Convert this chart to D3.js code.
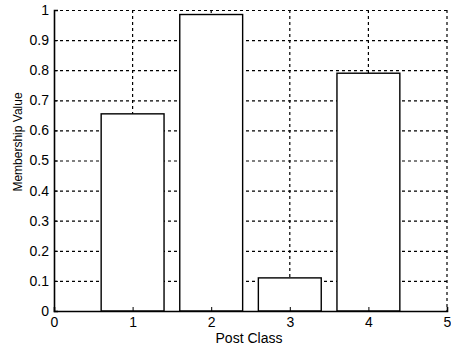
<!DOCTYPE html>
<html>
<head>
<meta charset="utf-8">
<script src="https://cdn.jsdelivr.net/npm/d3@7"></script>
<style>
  body { margin: 0; background: #fff; }
  svg text { font-family: "Liberation Sans", Arial, sans-serif; fill: #000; }
</style>
</head>
<body>
<div id="chart"></div>
<script>
var classes = [1, 2, 3, 4, 5];
var membership = [0.655, 0.985, 0.11, 0.79, 0];
var xTicks = [0, 1, 2, 3, 4, 5];
var yTicks = [0, 0.1, 0.2, 0.3, 0.4, 0.5, 0.6, 0.7, 0.8, 0.9, 1];

var w = 451;
var h = 349;
// plot box edges (not "top": that name is taken by window.top)
var pLeft = 54, pRight = 447, pTop = 10, pBottom = 311;

var svg = d3.select("#chart").append("svg").attr("width", w).attr("height", h);

var xScale = d3.scaleLinear().domain([0, 5]).range([pLeft, pRight]);
var yScale = d3.scaleLinear().domain([0, 1]).range([pBottom, pTop]);

// dotted grid
svg.append("g").selectAll("line").data(xTicks.slice(1)).enter().append("line")
    .attr("x1", function (d) { return xScale(d); })
    .attr("x2", function (d) { return xScale(d); })
    .attr("y1", pTop).attr("y2", pBottom)
    .attr("stroke", "#000").attr("stroke-width", 1.2)
    .attr("stroke-dasharray", "3,3");

svg.append("g").selectAll("line").data(yTicks.slice(1)).enter().append("line")
    .attr("y1", function (d) { return yScale(d) + 0.5; })
    .attr("y2", function (d) { return yScale(d) + 0.5; })
    .attr("x1", pLeft).attr("x2", pRight)
    .attr("stroke", "#000").attr("stroke-width", 1.2)
    .attr("stroke-dasharray", "3,3");

// bars
svg.append("g").selectAll("rect").data(membership).enter().append("rect")
    .attr("x", function (d, i) { return xScale(classes[i] - 0.4); })
    .attr("y", function (d) { return yScale(d); })
    .attr("width", xScale(0.8) - xScale(0))
    .attr("height", function (d) { return pBottom - yScale(d); })
    .attr("fill", "#fff")
    .attr("stroke", "#000")
    .attr("stroke-width", 1.4);

// axes
var xAxis = d3.axisBottom(xScale).tickValues(xTicks).tickSize(-4).tickPadding(6).tickFormat(d3.format("d"));
var gx = svg.append("g").attr("transform", "translate(0," + pBottom + ")").call(xAxis);
gx.select(".domain").attr("stroke-width", 1.6);
gx.selectAll("text").attr("font-size", "14px");

var yAxis = d3.axisLeft(yScale).tickValues(yTicks).tickSize(-4).tickPadding(5).tickFormat(function (d) { return d === 0 || d === 1 ? d : d3.format(".1f")(d); });
var gy = svg.append("g").attr("transform", "translate(" + pLeft + ",0)").call(yAxis);
gy.select(".domain").attr("stroke-width", 1.6);
gy.selectAll("text").attr("font-size", "14px");

// labels
svg.append("text").attr("x", 249).attr("y", 343)
    .attr("text-anchor", "middle").attr("font-size", "14px").text("Post Class");

svg.append("text").attr("transform", "translate(22,142) rotate(-90)")
    .attr("text-anchor", "middle").attr("font-size", "12px").text("Membership Value");
</script>
</body>
</html>
